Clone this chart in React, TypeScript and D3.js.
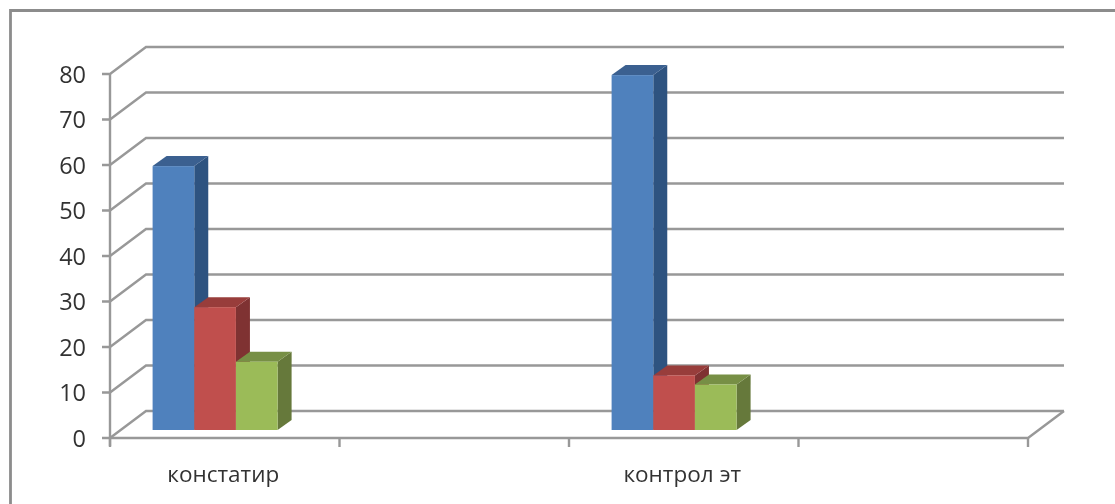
import React from "react";
import * as d3 from "d3";

const categories = ["констатир", "", "контрол эт", ""];
const seriesNames = ["a", "b", "c"];
const seriesBlue = [58, null, 78, null];
const seriesRed = [27, null, 12, null];
const seriesGreen = [15, null, 10, null];
const yTicks = [0, 10, 20, 30, 40, 50, 60, 70, 80];

const palette = [
  { front: "#4f81bd", top: "#3b6190", side: "#2f5280" },
  { front: "#c0504d", top: "#983c3a", side: "#7f3230" },
  { front: "#9bbb59", top: "#778f45", side: "#66793b" },
];

const W = 1115, H = 504;
const axisX0 = 110, axisX1 = 1028;
const depthX = 36, depthY = -27;
const barLift = 8, barDepthX = 14, barDepthY = -10;
const grid = "#989898";
const font = "'Open Sans', 'Noto Sans', sans-serif";

export default function App() {
  const y = d3.scaleLinear().domain([0, 80]).range([438, 74]);
  const x = d3.scaleBand<number>().domain(d3.range(categories.length)).range([axisX0, axisX1]);
  const s = d3.scaleBand<number>().domain(d3.range(seriesNames.length)).range([0, 125]);
  const all = [seriesBlue, seriesRed, seriesGreen];
  const tickXs = [...categories.map((_, i) => x(i)!), axisX1];
  const barStart = (i: number) => x(i)! + 42.6;

  return (
    <svg width={W} height={H} style={{ position: "absolute", left: 0, top: 0, background: "#fff" }}>
      <defs>
        <filter id="soft" x="-2%" y="-2%" width="104%" height="104%">
          <feGaussianBlur stdDeviation="0.5" />
        </filter>
      </defs>
      <g filter="url(#soft)">
        <path d="M1125,10.5 H10.5 V514" fill="none" stroke="#8c8c8c" strokeWidth={2.8} />
        {yTicks.map((t) => (
          <g key={t}>
            <path
              d={`M${axisX0 - 8},${y(t)} H${axisX0} L${axisX0 + depthX},${y(t) + depthY} H${axisX1 + depthX}`}
              fill="none" stroke={grid} strokeWidth={2.4}
            />
            <text x={86} y={y(t) + 8.5} textAnchor="end" fontFamily={font} fontSize={23.5} fill="#333">{t}</text>
          </g>
        ))}
        <path d={`M${axisX0},${y(80)} V${y(0) + 8}`} fill="none" stroke={grid} strokeWidth={2.4} />
        <path d={`M${axisX0},${y(0)} H${axisX1} L${axisX1 + depthX},${y(0) + depthY}`} fill="none" stroke={grid} strokeWidth={2.4} />
        {tickXs.map((t, i) => (
          <path key={i} d={`M${t},${y(0)} V${y(0) + 9}`} stroke={grid} strokeWidth={2.4} />
        ))}
        {categories.map((c, i) =>
          c ? (
            <text key={i} x={x(i)! + x.bandwidth() / 2 - 1.5} y={481.5} textAnchor="middle" fontFamily={font} fontSize={22.5} fill="#333">{c}</text>
          ) : null
        )}
        {categories.map((_, ci) =>
          all.map((series, si) => {
            const v = series[ci];
            if (v == null) return null;
            const l = barStart(ci) + s(si)!;
            const r = l + s.bandwidth();
            const b = y(0) - barLift;
            const t = y(v) - barLift;
            const c = palette[si];
            return (
              <g key={`${ci}-${si}`}>
                <path d={`M${r},${b} L${r + barDepthX},${b + barDepthY} V${t + barDepthY} L${r},${t} Z`} fill={c.side} />
                <path d={`M${l},${t} L${l + barDepthX},${t + barDepthY} H${r + barDepthX} L${r},${t} Z`} fill={c.top} />
                <rect x={l} y={t} width={r - l} height={b - t} fill={c.front} />
              </g>
            );
          })
        )}
      </g>
    </svg>
  );
}
